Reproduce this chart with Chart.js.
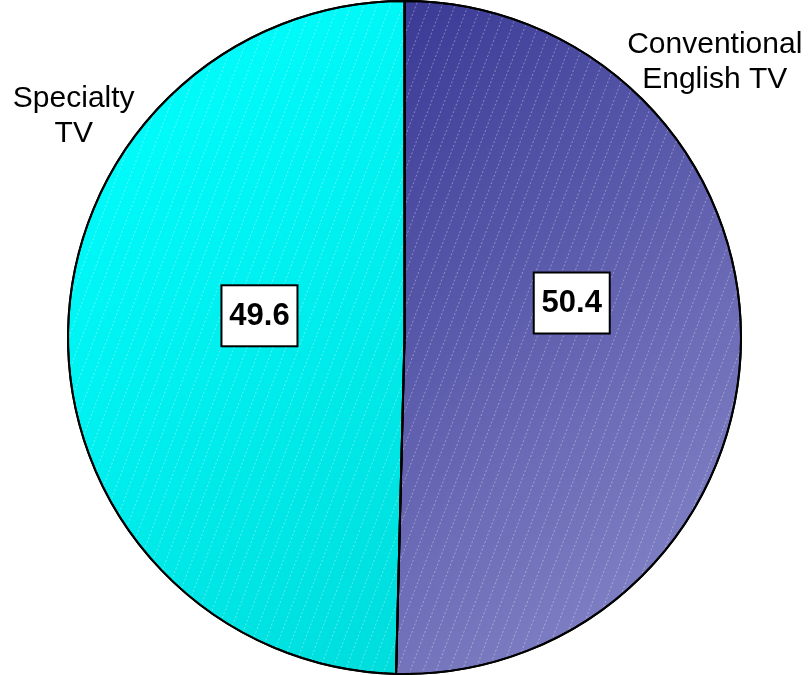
<!DOCTYPE html>
<html>
<head>
<meta charset="utf-8">
<script src="https://cdn.jsdelivr.net/npm/chart.js@4"></script>
<style>
  html, body { margin: 0; padding: 0; background: #fff; }
  #wrap { width: 809px; height: 675px; }
</style>
</head>
<body>
<div id="wrap"><canvas id="pieChart"></canvas></div>
<script>
// Дані
const categories = ["Conventional English TV", "Specialty TV"];
const shares = [50.4, 49.6];
const nameLines = [["Conventional", "English TV"], ["Specialty", "TV"]];
const valueText = ["50.4", "49.6"];

// кольори: градієнт від верхнього лівого до нижнього правого
const gradStops = [
  ["#28288a", "#8a8acb"],
  ["#00ffff", "#00d2d2"]
];

// позиції підписів відносно центру (в частках радіуса)
const valueOffset = [[0.497, -0.104], [-0.431, -0.066]];
const nameOffset = [[0.922, -0.82], [-0.983, -0.66]];

function sliceColor(c) {
  const chart = c.chart;
  const area = chart.chartArea;
  if (!area) return gradStops[c.dataIndex][0];
  const g = chart.ctx.createLinearGradient(area.left + 150, area.top, area.right - 100, area.bottom);
  g.addColorStop(0, gradStops[c.dataIndex][0]);
  g.addColorStop(1, gradStops[c.dataIndex][1]);
  return g;
}

function arcPath(ctx, a) {
  ctx.beginPath();
  ctx.moveTo(a.x, a.y);
  ctx.arc(a.x, a.y, a.outerRadius, a.startAngle, a.endAngle);
  ctx.closePath();
}

// штрихування + обводка + підписи
const hatchPlugin = {
  id: "hatch",
  afterDatasetsDraw(chart) {
    const ctx = chart.ctx;
    const arcs = chart.getDatasetMeta(0).data;
    arcs.forEach(a => {
      ctx.save();
      arcPath(ctx, a);
      ctx.clip();
      ctx.strokeStyle = "rgba(255,255,255,0.35)";
      ctx.lineWidth = 1;
      ctx.setLineDash([2, 2]);
      const r = a.outerRadius;
      for (let x = a.x - r - 2 * r; x < a.x + r + r; x += 13) {
        ctx.beginPath();
        ctx.moveTo(x, a.y + r);
        ctx.lineTo(x + 0.38 * 2 * r, a.y - r);
        ctx.stroke();
      }
      ctx.restore();
    });
    arcs.forEach(a => {
      ctx.save();
      arcPath(ctx, a);
      ctx.lineWidth = 2;
      ctx.strokeStyle = "#000";
      ctx.lineJoin = "round";
      ctx.stroke();
      ctx.restore();
    });

    arcs.forEach((a, i) => {
      const r = a.outerRadius;
      // значення в рамці
      const vx = a.x + valueOffset[i][0] * r;
      const vy = a.y + valueOffset[i][1] * r;
      ctx.save();
      ctx.fillStyle = "#fff";
      ctx.strokeStyle = "#000";
      ctx.lineWidth = 2;
      ctx.fillRect(vx - 38, vy - 30, 76, 61);
      ctx.strokeRect(vx - 38, vy - 30, 76, 61);
      ctx.fillStyle = "#000";
      ctx.font = "bold 31px 'Liberation Sans', Arial, sans-serif";
      ctx.textAlign = "center";
      ctx.textBaseline = "middle";
      ctx.fillText(valueText[i], vx, vy + 1);
      // назва категорії
      const nx = a.x + nameOffset[i][0] * r;
      const ny = a.y + nameOffset[i][1] * r;
      ctx.font = "30px 'Liberation Sans', Arial, sans-serif";
      ctx.fillText(nameLines[i][0], nx, ny - 17);
      ctx.fillText(nameLines[i][1], nx, ny + 18);
      ctx.restore();
    });
  }
};

new Chart(document.getElementById("pieChart"), {
  type: "pie",
  data: {
    labels: categories,
    datasets: [{
      data: shares,
      backgroundColor: sliceColor,
      borderColor: "#000",
      borderWidth: 2
    }]
  },
  options: {
    responsive: true,
    maintainAspectRatio: false,
    animation: false,
    layout: { padding: 0 },
    plugins: {
      legend: { display: false },
      tooltip: { enabled: false }
    }
  },
  plugins: [hatchPlugin]
});
</script>
</body>
</html>
